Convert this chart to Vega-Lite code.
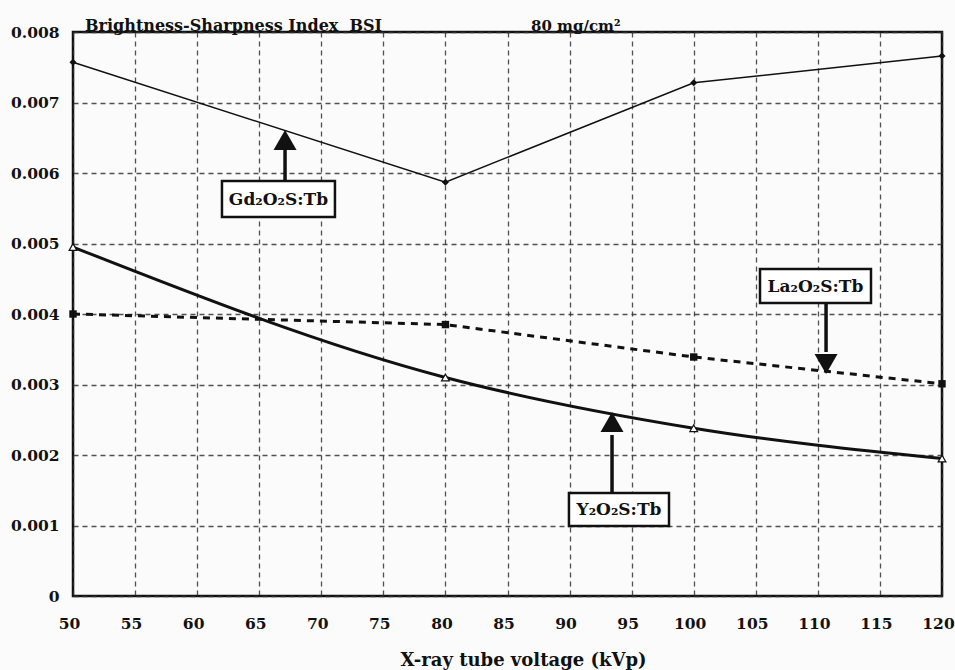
{
  "$schema": "https://vega.github.io/schema/vega-lite/v6.json",
  "width": 869,
  "height": 564,
  "autosize": {"type": "none"},
  "padding": {"left": 73, "top": 32, "right": 13, "bottom": 74},
  "background": "#fbfbfb",
  "config": {
    "font": "DejaVu Serif",
    "view": {"stroke": "#111", "strokeWidth": 2.5},
    "axis": {
      "labelFont": "DejaVu Serif",
      "labelFontWeight": "bold",
      "labelFontSize": 15.5,
      "labelColor": "#111",
      "ticks": false,
      "domain": false,
      "gridColor": "#333",
      "gridDash": [5, 4],
      "gridWidth": 1.3,
      "gridOpacity": 0.85,
      "titleFont": "DejaVu Serif",
      "titleFontWeight": "bold",
      "titleFontSize": 18,
      "titleColor": "#111"
    }
  },
  "datasets": {
    "series": [
      {"s": "Gd", "x": 50, "y": 0.00757},
      {"s": "Gd", "x": 80, "y": 0.00587},
      {"s": "Gd", "x": 100, "y": 0.00728},
      {"s": "Gd", "x": 120, "y": 0.00766},
      {"s": "La", "x": 50, "y": 0.0040},
      {"s": "La", "x": 80, "y": 0.00385},
      {"s": "La", "x": 100, "y": 0.00339},
      {"s": "La", "x": 120, "y": 0.00301},
      {"s": "Y", "x": 50, "y": 0.00495},
      {"s": "Y", "x": 80, "y": 0.0031},
      {"s": "Y", "x": 100, "y": 0.00238},
      {"s": "Y", "x": 120, "y": 0.00195}
    ],
    "boxes": [
      {"x": 62.0, "x2": 71.1, "y": 0.005887, "y2": 0.005376},
      {"x": 105.34, "x2": 114.28, "y": 0.004638, "y2": 0.004156},
      {"x": 89.95, "x2": 98.01, "y": 0.001461, "y2": 0.000993}
    ],
    "labels": [
      {"t": "Gd₂O₂S:Tb", "x": 66.55, "y": 0.005631},
      {"t": "La₂O₂S:Tb", "x": 109.81, "y": 0.004397},
      {"t": "Y₂O₂S:Tb", "x": 93.98, "y": 0.001227}
    ],
    "shafts": [
      {"x": 67.08, "y": 0.005887, "y2": 0.006326},
      {"x": 110.66, "y": 0.004156, "y2": 0.003461},
      {"x": 93.42, "y": 0.001461, "y2": 0.002284}
    ],
    "heads": [
      {"x": 67.08, "y": 0.006468, "dir": "up"},
      {"x": 110.66, "y": 0.003291, "dir": "down"},
      {"x": 93.42, "y": 0.002468, "dir": "up"}
    ],
    "titles": [
      {"t": "Brightness-Sharpness Index\u00a0\u00a0BSI", "x": 50.97, "y": 0.008, "fs": 16},
      {"t": "80 mg/cm²", "x": 86.89, "y": 0.008, "fs": 15}
    ]
  },
  "encoding": {
    "x": {
      "field": "x",
      "type": "quantitative",
      "scale": {"domain": [50, 120], "nice": false, "zero": false},
      "axis": {
        "values": [50, 55, 60, 65, 70, 75, 80, 85, 90, 95, 100, 105, 110, 115, 120],
        "labelPadding": 20,
        "labelOffset": -4,
        "labelFlush": false,
        "title": "X-ray tube voltage (kVp)",
        "titleX": 450,
        "titleY": 64,
        "titleBaseline": "middle"
      }
    },
    "y": {
      "field": "y",
      "type": "quantitative",
      "scale": {"domain": [0, 0.008], "nice": false},
      "axis": {
        "values": [0, 0.001, 0.002, 0.003, 0.004, 0.005, 0.006, 0.007, 0.008],
        "labelExpr": "datum.value == 0 ? '0' : format(datum.value, '.3f')",
        "labelPadding": 14,
        "labelFlush": false,
        "title": null
      }
    }
  },
  "layer": [
    {
      "data": {"name": "series"},
      "transform": [{"filter": "datum.s == 'Gd'"}],
      "mark": {"type": "line", "color": "#111", "strokeWidth": 1.5}
    },
    {
      "data": {"name": "series"},
      "transform": [{"filter": "datum.s == 'La'"}],
      "mark": {"type": "line", "color": "#111", "strokeWidth": 3, "strokeDash": [7, 6]}
    },
    {
      "data": {"name": "series"},
      "transform": [{"filter": "datum.s == 'Y'"}],
      "mark": {"type": "line", "color": "#111", "strokeWidth": 3, "interpolate": "monotone"}
    },
    {
      "data": {"name": "series"},
      "transform": [{"filter": "datum.s == 'Gd'"}],
      "mark": {"type": "point", "shape": "diamond", "filled": true, "color": "#111", "size": 50, "opacity": 1}
    },
    {
      "data": {"name": "series"},
      "transform": [{"filter": "datum.s == 'La'"}],
      "mark": {"type": "point", "shape": "square", "filled": true, "color": "#111", "size": 55, "opacity": 1}
    },
    {
      "data": {"name": "series"},
      "transform": [{"filter": "datum.s == 'Y'"}],
      "mark": {"type": "point", "shape": "triangle-up", "filled": false, "fill": "white", "fillOpacity": 1, "stroke": "#111", "strokeWidth": 1.2, "size": 60, "opacity": 1}
    },
    {
      "data": {"name": "shafts"},
      "mark": {"type": "rule", "color": "#111", "strokeWidth": 3.5},
      "encoding": {"y2": {"field": "y2"}}
    },
    {
      "data": {"name": "heads"},
      "mark": {"type": "point", "filled": true, "color": "#111", "size": 529, "opacity": 1},
      "encoding": {
        "shape": {
          "field": "dir",
          "type": "nominal",
          "scale": {"domain": ["up", "down"], "range": ["triangle-up", "triangle-down"]},
          "legend": null
        }
      }
    },
    {
      "data": {"name": "boxes"},
      "mark": {"type": "rect", "fill": "white", "stroke": "#111", "strokeWidth": 2.5},
      "encoding": {"x2": {"field": "x2"}, "y2": {"field": "y2"}}
    },
    {
      "data": {"name": "labels"},
      "mark": {"type": "text", "font": "DejaVu Serif", "fontWeight": "bold", "fontSize": 17, "color": "#111", "align": "center", "baseline": "middle", "dy": 1},
      "encoding": {"text": {"field": "t"}}
    },
    {
      "data": {"name": "titles"},
      "mark": {"type": "text", "font": "DejaVu Serif", "fontWeight": "bold", "color": "#111", "align": "left", "baseline": "alphabetic", "dy": -1},
      "encoding": {"text": {"field": "t"}, "size": {"field": "fs", "type": "quantitative", "scale": null}}
    }
  ]
}
